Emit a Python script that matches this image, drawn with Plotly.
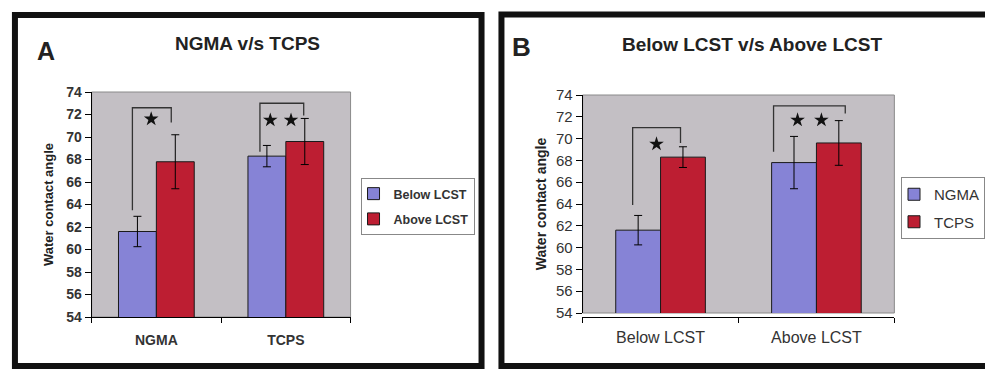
import plotly.graph_objects as go

# ---------------- data ----------------
conditions = ["Below LCST", "Above LCST"]          # panel B categories / panel A series
surfaces = ["NGMA", "TCPS"]                         # panel A categories / panel B series
ngma_vals = [61.6, 67.8]                            # NGMA: below, above LCST
ngma_err = [1.35, 2.4]
tcps_vals = [68.3, 69.6]                            # TCPS: below, above LCST
tcps_err = [0.95, 2.05]
y_ticks = [54, 56, 58, 60, 62, 64, 66, 68, 70, 72, 74]

# Panel A series (categories = surfaces)
below_vals = [ngma_vals[0], tcps_vals[0]]
below_err = [ngma_err[0], tcps_err[0]]
above_vals = [ngma_vals[1], tcps_vals[1]]
above_err = [ngma_err[1], tcps_err[1]]

# significance brackets: (x_left, x_right, y_left, y_top, y_right, star_xs, star_y)
brackets_A = [
    (-0.185, 0.115, 63.5, 72.6, 71.3, [-0.04], 71.6),
    (0.80, 1.138, 68.7, 73.0, 71.9, [0.88, 1.04], 71.5),
]
brackets_B = [
    (-0.179, 0.128, 63.9, 71.0, 69.6, [-0.026], 69.5),
    (0.725, 1.185, 68.8, 73.0, 72.3, [0.879, 1.032], 71.7),
]

BLUE = "#8683D6"
RED = "#BD1E32"
PLOT_BG = "#C3BFC4"
FONT = "Liberation Sans, Arial, sans-serif"

W, H = 985, 369
def px(x):
    return x / W
def py(y):
    return 1 - y / H

fig = go.Figure()

err_style = dict(type="data", color="black", thickness=1, width=4, visible=True)
bar_line = dict(color="#1a1a1a", width=1)
xpos = list(range(len(surfaces)))

# ---- Panel A ----
fig.add_trace(go.Bar(x=xpos, y=below_vals, name="Below LCST", marker=dict(color=BLUE, line=bar_line),
                     error_y=dict(array=below_err, **err_style), xaxis="x", yaxis="y",
                     legend="legend", legendgroup="a1", width=0.2925, offset=-0.2925))
fig.add_trace(go.Bar(x=xpos, y=above_vals, name="Above LCST", marker=dict(color=RED, line=bar_line),
                     error_y=dict(array=above_err, **err_style), xaxis="x", yaxis="y",
                     legend="legend", legendgroup="a2", width=0.2925, offset=0.0))

# ---- Panel B ----
xposB = list(range(len(conditions)))
fig.add_trace(go.Bar(x=xposB, y=ngma_vals, name="NGMA", marker=dict(color=BLUE, line=bar_line),
                     error_y=dict(array=ngma_err, **err_style), xaxis="x2", yaxis="y2",
                     legend="legend2", legendgroup="b1", width=0.2875, offset=-0.2875))
fig.add_trace(go.Bar(x=xposB, y=tcps_vals, name="TCPS", marker=dict(color=RED, line=bar_line),
                     error_y=dict(array=tcps_err, **err_style), xaxis="x2", yaxis="y2",
                     legend="legend2", legendgroup="b2", width=0.2875, offset=0.0))

# brackets and stars
for brs, xa, ya in [(brackets_A, "x", "y"), (brackets_B, "x2", "y2")]:
    for xl, xr, yl, yt, yr, sx, sy in brs:
        fig.add_trace(go.Scatter(x=[xl, xl, xr, xr], y=[yl, yt, yt, yr], mode="lines",
                                 line=dict(color="#333333", width=1.3), showlegend=False,
                                 hoverinfo="skip", xaxis=xa, yaxis=ya))
        fig.add_trace(go.Scatter(x=sx, y=[sy] * len(sx), mode="markers",
                                 marker=dict(symbol="star", size=11, color="#111111"),
                                 showlegend=False, hoverinfo="skip", xaxis=xa, yaxis=ya))

def xaxis_cfg(domain, labels, font, standoff):
    return dict(domain=domain, range=[-0.5, len(labels) - 0.5], tickvals=list(range(len(labels))),
                ticktext=labels, ticks="", showline=True, linecolor="black", linewidth=1,
                showgrid=False, zeroline=False, tickfont=font, ticklabelstandoff=standoff,
                minor=dict(tickvals=[-0.5, 0.5, 1.5], ticks="outside", ticklen=5, tickcolor="black"),
                automargin=False, fixedrange=True)

def yaxis_cfg(domain, anchor, font, tfont, standoff):
    return dict(domain=domain, anchor=anchor, range=[54, 74], tickvals=y_ticks, ticks="outside",
                ticklen=6, tickcolor="black", showline=True, linecolor="black", linewidth=1,
                showgrid=False, zeroline=False, tickfont=font,
                title=dict(text="Water contact angle", font=tfont, standoff=standoff),
                automargin=False, fixedrange=True)

fig.update_layout(
    width=W, height=H, autosize=False,
    margin=dict(l=0, r=0, t=0, b=0),
    paper_bgcolor="white", plot_bgcolor=PLOT_BG,
    font=dict(family=FONT, color="#222222"),
    barmode="overlay",
    xaxis=xaxis_cfg([px(92), px(352)], surfaces, dict(family=FONT, size=14, weight="bold", color="#333333"), 10),
    yaxis=yaxis_cfg([py(317), py(92)], "x", dict(family=FONT, size=14, weight="bold", color="#333333"),
                    dict(family=FONT, size=13, weight="bold", color="#222222"), 9),
    xaxis2=xaxis_cfg([px(585), px(898)], conditions, dict(family=FONT, size=16, color="#333333"), 6),
    yaxis2=yaxis_cfg([py(313), py(95)], "x2", dict(family=FONT, size=15, color="#333333"),
                     dict(family=FONT, size=14, weight="bold", color="#222222"), 6),
    legend=dict(x=px(362), y=py(178), xanchor="left", yanchor="top", bgcolor="white",
                bordercolor="#888888", borderwidth=1, tracegroupgap=6, indentation=-8,
                font=dict(family=FONT, size=12.5, weight="bold", color="#333333")),
    legend2=dict(x=px(905), y=py(177), xanchor="left", yanchor="top", bgcolor="white",
                 bordercolor="#888888", borderwidth=1, tracegroupgap=5, indentation=-8,
                 font=dict(family=FONT, size=15, color="#333333")),
    showlegend=True,
)

# plot-area borders (gray)
for xr_, yr_ in [("x domain", "y domain"), ("x2 domain", "y2 domain")]:
    fig.add_shape(type="rect", xref=xr_, yref=yr_, x0=0, x1=1, y0=0, y1=1,
                  line=dict(color="#8a8a8a", width=1), layer="below")

# panel frames
fig.add_shape(type="rect", xref="paper", yref="paper", x0=px(15), x1=px(483.5), y0=py(366), y1=py(15),
              line=dict(color="#111111", width=6))
fig.add_shape(type="rect", xref="paper", yref="paper", x0=px(503.5), x1=px(995), y0=py(366), y1=py(14.5),
              line=dict(color="#111111", width=6))

# titles and panel letters
def label(text, x, y, size):
    fig.add_annotation(text=text, xref="paper", yref="paper", x=px(x), y=py(y),
                       xanchor="center", yanchor="middle", showarrow=False,
                       font=dict(family=FONT, size=size, weight="bold", color="#222222"))

label("NGMA v/s TCPS", 249, 43.5, 19)
label("Below LCST v/s Above LCST", 755, 44.5, 19)
label("A", 46, 51, 25)
label("B", 524, 47, 26)

fig.write_html("out.html", post_script="document.body.style.margin='0';",
               config={"displayModeBar": False})
